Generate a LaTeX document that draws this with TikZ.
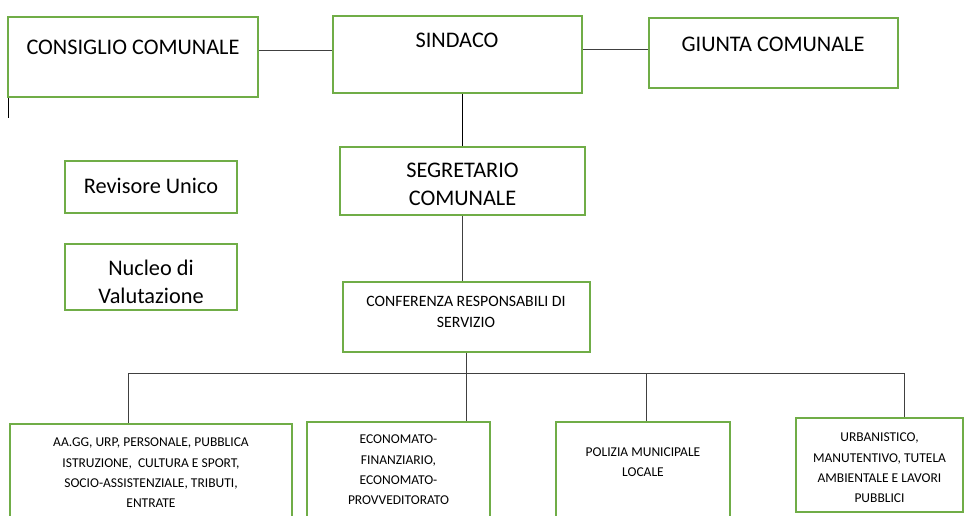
\documentclass[tikz,border=0pt]{standalone}
\usepackage{fontspec}
\setmainfont{Carlito}
\usepackage{tikz}
\definecolor{boxGreen}{RGB}{112,173,71}

\begin{document}
\begin{tikzpicture}[
  x=1pt, y=-1pt,
  box/.style={draw=boxGreen, line width=2.6pt, fill=white},
  link/.style={draw=black!75, line width=0.9pt},
  bigText/.style={align=center, font=\fontsize{22.3}{28}\selectfont},
  midText/.style={align=center, font=\fontsize{15.8}{21}\selectfont},
  smallText/.style={align=center, font=\fontsize{13.5}{20.3}\selectfont}]

\useasboundingbox (0,0) rectangle (968,515);

% Position the boxes at the coordinates of the chart
\node[box, minimum width=250pt, minimum height=80pt] (consiglio) at (133,57) {};
\node[box, minimum width=249pt, minimum height=77pt] (sindaco) at (457.5,54.5) {};
\node[box, minimum width=249pt, minimum height=70pt] (giunta) at (773.5,53) {};
\node[box, minimum width=245pt, minimum height=68pt] (segretario) at (462.5,181) {};
\node[box, minimum width=172pt, minimum height=52pt] (revisore) at (151,187) {};
\node[box, minimum width=172pt, minimum height=66pt] (nucleo) at (151,277) {};
\node[box, minimum width=247pt, minimum height=70pt] (conferenza) at (466.5,317) {};
\node[box, minimum width=282pt, minimum height=106pt] (aagg) at (151,477) {};
\node[box, minimum width=183pt, minimum height=108pt] (economato) at (398.5,476) {};
\node[box, minimum width=174pt, minimum height=108pt] (polizia) at (643,476) {};
\node[box, minimum width=167pt, minimum height=94pt] (urbanistico) at (879.5,465) {};

% Texts inside the boxes
\node[bigText] (consiglioText) at (133,47) {CONSIGLIO COMUNALE};
\node[bigText] (sindacoText) at (457,40) {SINDACO};
\node[bigText] (giuntaText) at (773,44) {GIUNTA COMUNALE};
\node[bigText] (segretarioText) at (462.5,184) {SEGRETARIO\\COMUNALE};
\node[bigText] (revisoreText) at (151,186) {Revisore Unico};
\node[bigText] (nucleoText) at (151,282) {Nucleo di\\Valutazione};
\node[midText] (conferenzaText) at (466,312) {CONFERENZA RESPONSABILI DI\\SERVIZIO};
\node[smallText] (aaggText) at (151,473) {AA.GG, URP, PERSONALE, PUBBLICA\\ISTRUZIONE,\ \ CULTURA E SPORT,\\SOCIO-ASSISTENZIALE, TRIBUTI,\\ENTRATE};
\node[smallText] (economatoText) at (398.5,470) {ECONOMATO-\\FINANZIARIO,\\ECONOMATO-\\PROVVEDITORATO};
\node[smallText] (poliziaText) at (643,462) {POLIZIA MUNICIPALE\\LOCALE};
\node[smallText] (urbanisticoText) at (879.5,468) {URBANISTICO,\\MANUTENTIVO, TUTELA\\AMBIENTALE E LAVORI\\PUBBLICI};

% Draw the lines between the boxes
\draw[link] ([yshift=7pt]consiglio.east) -- ([yshift=7pt]consiglio.east -| sindaco.west);
\draw[link] ([yshift=5.5pt]sindaco.east) -- ([yshift=5.5pt]sindaco.east -| giunta.west);
\draw[link, draw=black] (segretario.north |- sindaco.south) -- (segretario.north);
\draw[link] (segretario.south) -- (segretario.south |- conferenza.north);

% Branches towards the services
\coordinate (dropA) at (128,373);
\coordinate (dropB) at (466,373);
\coordinate (dropC) at (646,373);
\coordinate (dropD) at (904,373);
\draw[link] (conferenza.south) -- (conferenza.south |- dropB);
\draw[link] (dropA) -- (dropD);
\draw[link] (dropA) -- (dropA |- aagg.north);
\draw[link] (dropB) -- (dropB |- economato.north);
\draw[link] (dropC) -- (dropC |- polizia.north);
\draw[link] (dropD) -- (dropD |- urbanistico.north);

% Cursor mark below the first box
\draw[link, draw=black] ([xshift=2pt]consiglio.south west) -- ++(0,20);

\end{tikzpicture}
\end{document}
